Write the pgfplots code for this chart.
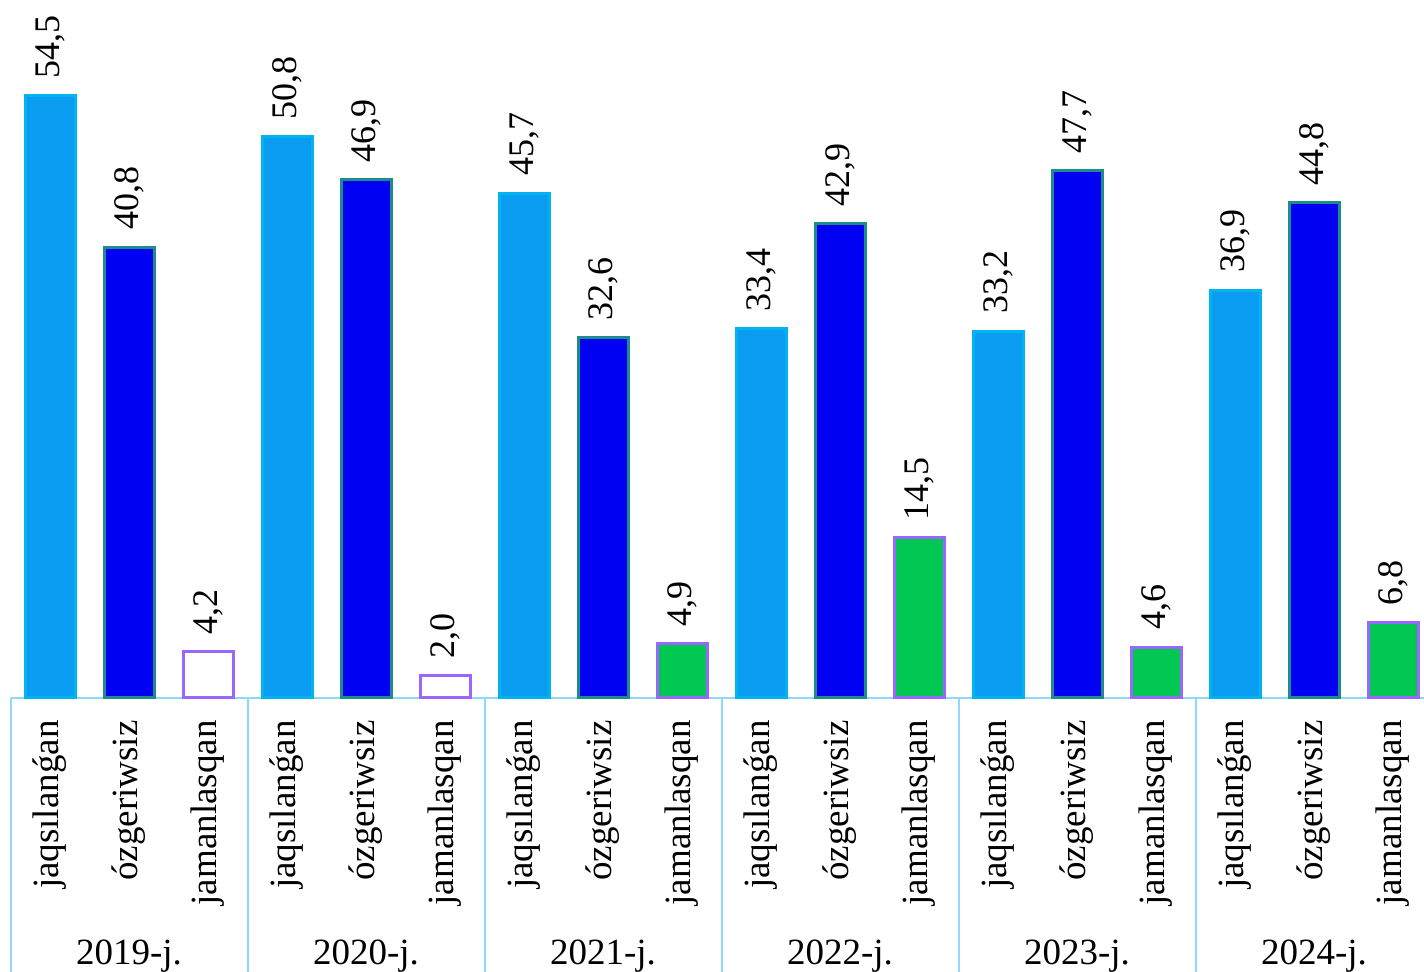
\documentclass[border=0pt]{standalone}
\usepackage{fontspec}
\setmainfont{Liberation Serif}
\usepackage{pgfplots}
\pgfplotsset{compat=1.18}
\definecolor{lb}{HTML}{0A9CF0}
\definecolor{lbb}{HTML}{00B4F0}
\definecolor{db}{HTML}{0000F2}
\definecolor{dbb}{HTML}{1E8C8C}
\definecolor{gr}{HTML}{00C853}
\definecolor{pu}{HTML}{9966FF}
\definecolor{axc}{HTML}{8ED8F8}
\newcommand{\lab}{\fontsize{18.5}{20}\selectfont}
\begin{document}
\begin{tikzpicture}
\begin{axis}[
  scale only axis, width=706.75pt, height=349pt,
  xmin=-0.5, xmax=17.392, ymin=0, ymax=63.17,
  axis y line=none, axis x line*=bottom,
  x axis line style={draw=axc, line width=1pt, -},
  xtick={0,...,17},
  xticklabels={jaqsılanǵan, ózgeriwsiz, jamanlasqan, jaqsılanǵan, ózgeriwsiz, jamanlasqan, jaqsılanǵan, ózgeriwsiz, jamanlasqan, jaqsılanǵan, ózgeriwsiz, jamanlasqan, jaqsılanǵan, ózgeriwsiz, jamanlasqan, jaqsılanǵan, ózgeriwsiz, jamanlasqan},
  major tick length=0pt,
  xticklabel style={rotate=90, anchor=east, font=\lab, inner xsep=11pt, inner ysep=0pt},
  ybar, bar width=25pt, bar shift=0pt,
  nodes near coords,
  nodes near coords style={rotate=90, anchor=west, inner xsep=8pt, inner ysep=0pt, font=\fontsize{18}{20}\selectfont, text=black},
  /pgf/number format/fixed, /pgf/number format/fixed zerofill, /pgf/number format/precision=1, /pgf/number format/use comma, /pgf/number format/assume math mode=true,
  clip=false,
]
\addplot[fill=lb, draw=lbb, line width=1.5pt] coordinates {(0,54.5)(3,50.8)(6,45.7)(9,33.4)(12,33.2)(15,36.9)};
\addplot[fill=db, draw=dbb, line width=1.5pt] coordinates {(1,40.8)(4,46.9)(7,32.6)(10,42.9)(13,47.7)(16,44.8)};
\addplot[fill=white, draw=pu, line width=1.5pt] coordinates {(2,4.2)(5,2.0)};
\addplot[fill=gr, draw=pu, line width=1.5pt] coordinates {(8,4.9)(11,14.5)(14,4.6)(17,6.8)};
\pgfplotsinvokeforeach{-0.5,2.5,5.5,8.5,11.5,14.5,17.5}{
  \draw[axc, line width=1pt] (axis cs:#1,0) -- (axis cs:#1,-26);
}
\node[anchor=base, font=\lab] at (axis cs:1,-24.16) {2019-j.};
\node[anchor=base, font=\lab] at (axis cs:4,-24.16) {2020-j.};
\node[anchor=base, font=\lab] at (axis cs:7,-24.16) {2021-j.};
\node[anchor=base, font=\lab] at (axis cs:10,-24.16) {2022-j.};
\node[anchor=base, font=\lab] at (axis cs:13,-24.16) {2023-j.};
\node[anchor=base, font=\lab] at (axis cs:16,-24.16) {2024-j.};
\coordinate (BL) at (rel axis cs:0,0);
\coordinate (TR) at (rel axis cs:1,1);
\end{axis}
\pgfresetboundingbox
\path ([xshift=-5.25pt,yshift=-137pt]BL) rectangle (TR);
\end{tikzpicture}
\end{document}
